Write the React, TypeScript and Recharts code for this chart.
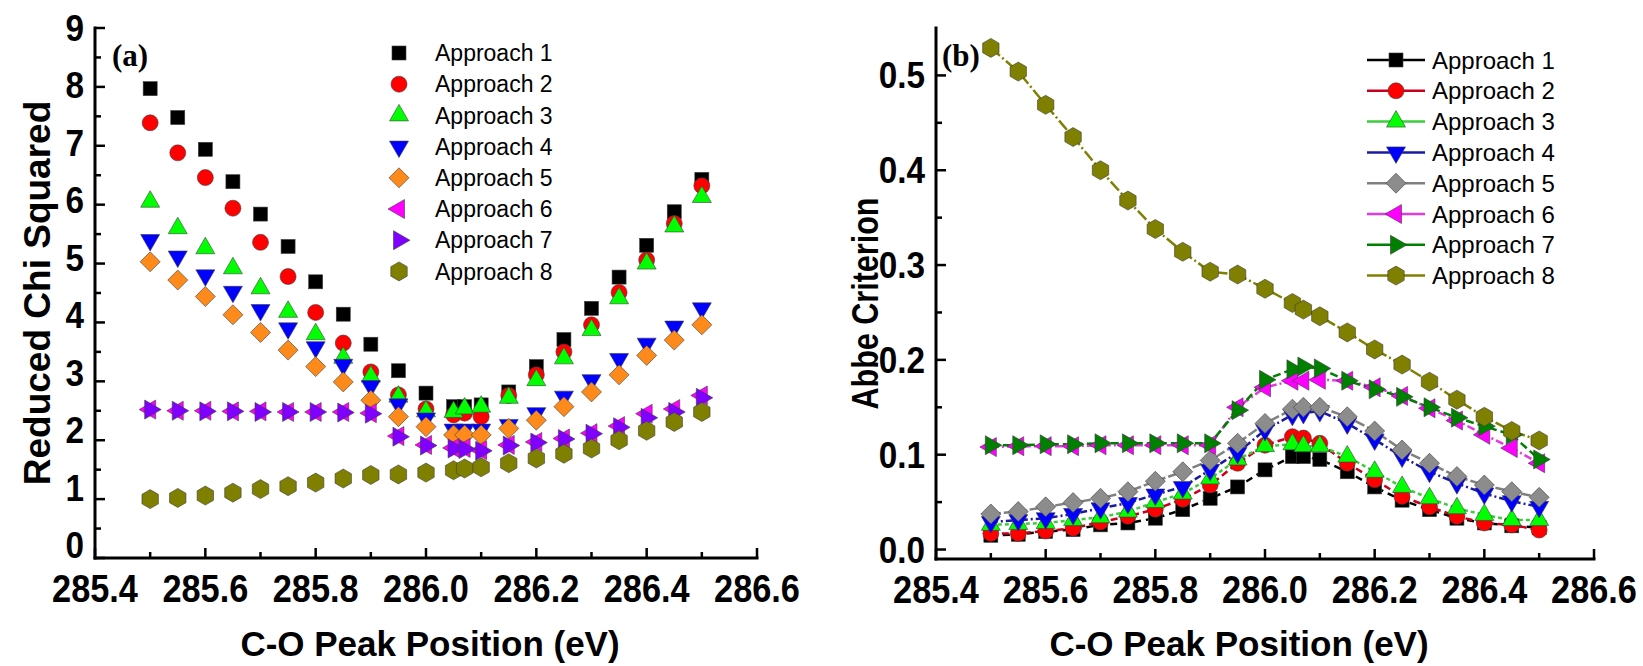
import { ScatterChart, Scatter, LineChart, Line, XAxis, YAxis, Legend } from 'recharts'

// C-O peak positions (eV) shared by both panels
const peakPositions = [
  285.5, 285.55, 285.6, 285.65, 285.7, 285.75, 285.8, 285.85, 285.9, 285.95, 286.0,
  286.05, 286.07, 286.1, 286.15, 286.2, 286.25, 286.3, 286.35, 286.4, 286.45, 286.5,
]

// (a) reduced chi squared
const chiApproach1 = [7.97, 7.48, 6.94, 6.39, 5.84, 5.29, 4.69, 4.14, 3.63, 3.18, 2.8, 2.57, 2.57, 2.6, 2.82, 3.25, 3.71, 4.24, 4.77, 5.31, 5.88, 6.43]
const chiApproach2 = [7.39, 6.88, 6.46, 5.94, 5.36, 4.78, 4.17, 3.65, 3.16, 2.77, 2.53, 2.43, 2.46, 2.4, 2.76, 3.11, 3.5, 3.96, 4.51, 5.06, 5.68, 6.32]
const chiApproach3 = [6.05, 5.6, 5.26, 4.92, 4.58, 4.18, 3.8, 3.4, 3.08, 2.74, 2.49, 2.48, 2.54, 2.57, 2.72, 3.02, 3.39, 3.87, 4.41, 5.0, 5.63, 6.13]
const chiApproach4 = [5.4, 5.12, 4.8, 4.52, 4.21, 3.9, 3.58, 3.28, 2.92, 2.61, 2.37, 2.18, 2.18, 2.18, 2.26, 2.46, 2.74, 3.02, 3.38, 3.64, 3.93, 4.24]
const chiApproach5 = [5.03, 4.72, 4.44, 4.13, 3.83, 3.53, 3.25, 2.99, 2.68, 2.4, 2.23, 2.09, 2.09, 2.09, 2.2, 2.34, 2.57, 2.82, 3.11, 3.44, 3.7, 3.96]
const chiApproach6 = [2.52, 2.5, 2.5, 2.49, 2.49, 2.48, 2.48, 2.48, 2.46, 2.07, 1.92, 1.87, 1.87, 1.83, 1.92, 1.97, 2.03, 2.12, 2.24, 2.45, 2.53, 2.76]
const chiApproach7 = [2.52, 2.5, 2.49, 2.49, 2.48, 2.48, 2.48, 2.47, 2.45, 2.06, 1.91, 1.86, 1.85, 1.82, 1.91, 1.96, 2.02, 2.11, 2.22, 2.38, 2.48, 2.72]
const chiApproach8 = [1.0, 1.02, 1.06, 1.11, 1.17, 1.22, 1.28, 1.35, 1.41, 1.42, 1.45, 1.49, 1.52, 1.54, 1.61, 1.69, 1.77, 1.86, 2.0, 2.16, 2.31, 2.48]

// (b) Abbe criterion
const abbeApproach1 = [0.015, 0.016, 0.019, 0.021, 0.026, 0.028, 0.033, 0.042, 0.054, 0.066, 0.084, 0.098, 0.098, 0.095, 0.082, 0.066, 0.052, 0.042, 0.033, 0.028, 0.025, 0.023]
const abbeApproach2 = [0.017, 0.017, 0.0195, 0.0225, 0.029, 0.035, 0.0425, 0.053, 0.068, 0.091, 0.11, 0.119, 0.1175, 0.112, 0.091, 0.0735, 0.056, 0.045, 0.035, 0.028, 0.026, 0.0205]
const abbeApproach3 = [0.026, 0.027, 0.028, 0.031, 0.034, 0.04, 0.05, 0.059, 0.075, 0.095, 0.109, 0.111, 0.109, 0.109, 0.098, 0.082, 0.066, 0.054, 0.0435, 0.0365, 0.031, 0.031]
const abbeApproach4 = [0.029, 0.031, 0.033, 0.0375, 0.0435, 0.049, 0.058, 0.066, 0.084, 0.102, 0.126, 0.142, 0.144, 0.146, 0.133, 0.116, 0.098, 0.082, 0.07, 0.059, 0.051, 0.045]
const abbeApproach5 = [0.0375, 0.04, 0.045, 0.0495, 0.054, 0.061, 0.072, 0.082, 0.094, 0.112, 0.133, 0.148, 0.15, 0.15, 0.14, 0.125, 0.105, 0.091, 0.077, 0.068, 0.061, 0.055]
const abbeApproach6 = [0.108, 0.109, 0.109, 0.109, 0.11, 0.11, 0.11, 0.11, 0.11, 0.15, 0.171, 0.178, 0.178, 0.179, 0.178, 0.171, 0.162, 0.149, 0.136, 0.121, 0.107, 0.091]
const abbeApproach7 = [0.11, 0.11, 0.111, 0.111, 0.112, 0.112, 0.112, 0.112, 0.112, 0.147, 0.179, 0.19, 0.193, 0.191, 0.178, 0.169, 0.161, 0.15, 0.139, 0.13, 0.121, 0.095]
const abbeApproach8 = [0.529, 0.504, 0.469, 0.435, 0.4, 0.368, 0.338, 0.314, 0.293, 0.29, 0.275, 0.26, 0.253, 0.246, 0.229, 0.211, 0.195, 0.177, 0.158, 0.14, 0.125, 0.115]

const approachNames = ['Approach 1', 'Approach 2', 'Approach 3', 'Approach 4', 'Approach 5', 'Approach 6', 'Approach 7', 'Approach 8']

const positionTicks = [285.4, 285.5, 285.6, 285.7, 285.8, 285.9, 286.0, 286.1, 286.2, 286.3, 286.4, 286.5, 286.6]
const chiTicks = [0, 0.5, 1, 1.5, 2, 2.5, 3, 3.5, 4, 4.5, 5, 5.5, 6, 6.5, 7, 7.5, 8, 8.5, 9]
const abbeTicks = [0, 0.05, 0.1, 0.15, 0.2, 0.25, 0.3, 0.35, 0.4, 0.45, 0.5]

const FONT = "'Liberation Sans', Arial, Helvetica, sans-serif"
const SERIF = "'Liberation Serif', 'Times New Roman', serif"

type Shape = 'square' | 'circle' | 'up' | 'down' | 'diamond' | 'left' | 'right' | 'hexagon'

const chiSeries = [
  { values: chiApproach1, shape: 'square', fill: '#000000' },
  { values: chiApproach2, shape: 'circle', fill: '#ff0000' },
  { values: chiApproach3, shape: 'up', fill: '#00ff00' },
  { values: chiApproach4, shape: 'down', fill: '#0000ff' },
  { values: chiApproach5, shape: 'diamond', fill: '#ff8a1c' },
  { values: chiApproach6, shape: 'left', fill: '#ff00ff' },
  { values: chiApproach7, shape: 'right', fill: '#8000ff' },
  { values: chiApproach8, shape: 'hexagon', fill: '#808000' },
].map((s, i) => ({ ...s, name: approachNames[i] }))

const abbeSeries = [
  { values: abbeApproach1, shape: 'square', fill: '#000000', line: '#000000', dash: '7 5' },
  { values: abbeApproach2, shape: 'circle', fill: '#ff0000', line: '#c8001e', dash: '7 4' },
  { values: abbeApproach3, shape: 'up', fill: '#00ff00', line: '#3ccc3c', dash: '4 3' },
  { values: abbeApproach4, shape: 'down', fill: '#0000ff', line: '#1a1aa0', dash: '7 3 2 3' },
  { values: abbeApproach5, shape: 'diamond', fill: '#8c8c8c', line: '#808080', dash: '10 3' },
  { values: abbeApproach6, shape: 'left', fill: '#ff00ff', line: '#e03ce0', dash: '8 3 2 3' },
  { values: abbeApproach7, shape: 'right', fill: '#008000', line: '#008000', dash: '8 4' },
  { values: abbeApproach8, shape: 'hexagon', fill: '#808000', line: '#808000', dash: '12 3 2 3' },
].map((s, i) => ({ ...s, name: approachNames[i], key: `a${i + 1}` }))

const abbeRows = peakPositions.map((x, i) => {
  const row: Record<string, number> = { x }
  abbeSeries.forEach((s) => {
    row[s.key] = s.values[i]
  })
  return row
})

const pts = (cx: number, cy: number, list: number[][]) =>
  list.map(([dx, dy]) => `${cx + dx},${cy + dy}`).join(' ')

function Marker({ shape, cx, cy, fill }: { shape: Shape; cx?: number; cy?: number; fill: string }) {
  if (cx == null || cy == null || Number.isNaN(cx) || Number.isNaN(cy)) return null
  const common = { fill, stroke: '#3c3c3c', strokeWidth: 0.6 }
  switch (shape) {
    case 'square':
      return <rect x={cx - 7} y={cy - 7} width={14} height={14} {...common} />
    case 'circle':
      return <circle cx={cx} cy={cy} r={8} {...common} />
    case 'up':
      return <polygon points={pts(cx, cy, [[0, -11], [9.5, 5.5], [-9.5, 5.5]])} {...common} />
    case 'down':
      return <polygon points={pts(cx, cy, [[0, 11], [9.5, -5.5], [-9.5, -5.5]])} {...common} />
    case 'diamond':
      return <polygon points={pts(cx, cy, [[0, -10], [10, 0], [0, 10], [-10, 0]])} {...common} />
    case 'left':
      return <polygon points={pts(cx, cy, [[-11, 0], [5.5, -9.5], [5.5, 9.5]])} {...common} />
    case 'right':
      return <polygon points={pts(cx, cy, [[11, 0], [-5.5, -9.5], [-5.5, 9.5]])} {...common} />
    default:
      return (
        <polygon
          points={pts(cx, cy, [[0, -9.5], [8.2, -4.75], [8.2, 4.75], [0, 9.5], [-8.2, 4.75], [-8.2, -4.75]])}
          {...common}
        />
      )
  }
}

type TickProps = { x?: number; y?: number; payload?: { value: number } }

const isMajorPosition = (v: number) => Math.round(v * 10) % 2 === 0
const isMajorChi = (v: number) => Number.isInteger(v)
const isMajorAbbe = (v: number) => Math.round(v * 100) % 10 === 0

// bold labels are drawn a little taller than wide, like the condensed Arial export
function BoldLabel({ x, y, anchor, size, squeeze, children }: {
  x: number; y: number; anchor: 'start' | 'middle' | 'end'; size: number; squeeze: number; children: string
}) {
  return (
    <text
      transform={`translate(${x}, ${y}) scale(${squeeze}, 1)`}
      textAnchor={anchor}
      fontFamily={FONT}
      fontWeight="bold"
      fontSize={size}
      fill="#000"
    >
      {children}
    </text>
  )
}

function PositionTickBottom({ x = 0, y = 0, payload }: TickProps) {
  const v = payload?.value ?? 0
  const major = isMajorPosition(v)
  return (
    <g>
      <line x1={x} y1={y} x2={x} y2={y - (major ? 10 : 6)} stroke="#000" strokeWidth={2.5} />
      {major && (
        <BoldLabel x={x} y={y + 44} anchor="middle" size={39} squeeze={0.88}>
          {v.toFixed(1)}
        </BoldLabel>
      )}
    </g>
  )
}

function PositionTickTop({ x = 0, y = 0, payload }: TickProps) {
  const major = isMajorPosition(payload?.value ?? 0)
  return <line x1={x} y1={y} x2={x} y2={y + (major ? 10 : 6)} stroke="#000" strokeWidth={2.5} />
}

function ValueTickLeft({ x = 0, y = 0, payload, kind }: TickProps & { kind: 'chi' | 'abbe' }) {
  const v = payload?.value ?? 0
  const major = kind === 'chi' ? isMajorChi(v) : isMajorAbbe(v)
  const label = kind === 'chi' ? String(v) : v.toFixed(1)
  // chi labels creep upward toward the bottom of the axis
  const ly = kind === 'chi' ? y - (y - 28) * 0.024 : y
  return (
    <g>
      <line x1={x} y1={y} x2={x + (major ? 10 : 6)} y2={y} stroke="#000" strokeWidth={2.5} />
      {major && (
        <BoldLabel x={x - 11} y={ly + 13} anchor="end" size={37} squeeze={0.9}>
          {label}
        </BoldLabel>
      )}
    </g>
  )
}

function ValueTickRight({ x = 0, y = 0, payload, kind }: TickProps & { kind: 'chi' | 'abbe' }) {
  const v = payload?.value ?? 0
  const major = kind === 'chi' ? isMajorChi(v) : isMajorAbbe(v)
  return <line x1={x} y1={y} x2={x - (major ? 10 : 6)} y2={y} stroke="#000" strokeWidth={2.5} />
}

type ViewBox = { x?: number; y?: number; width?: number; height?: number }

function SideTitle({ viewBox, text, dx, dy, size, length }: {
  viewBox?: ViewBox; text: string; dx: number; dy: number; size: number; length?: number
}) {
  const { x = 0, y = 0, height = 0 } = viewBox ?? {}
  return (
    <text
      transform={`translate(${x + dx}, ${y + height / 2 + dy}) rotate(-90)`}
      textAnchor="middle"
      dominantBaseline="central"
      fontFamily={FONT}
      fontWeight="bold"
      fontSize={size}
      fill="#000"
      textLength={length}
      lengthAdjust={length ? 'spacingAndGlyphs' : undefined}
    >
      {text}
    </text>
  )
}

function BottomTitle({ viewBox, text, dx, dy }: { viewBox?: ViewBox; text: string; dx: number; dy: number }) {
  const { x = 0, y = 0, width = 0 } = viewBox ?? {}
  return (
    <text x={x + width / 2 + dx} y={y + dy} textAnchor="middle" fontFamily={FONT} fontWeight="bold" fontSize={35} fill="#000">
      {text}
    </text>
  )
}

const axisLine = { stroke: '#000', strokeWidth: 3, strokeLinecap: 'square' as const }

function ChiKey() {
  return (
    <svg width={820} height={666} style={{ position: 'absolute', left: 0, top: 0 }}>
      <text x={112} y={66} fontFamily={SERIF} fontWeight="bold" fontSize={31}>
        (a)
      </text>
      {chiSeries.map((s, i) => {
        const cy = 53 + i * 31.2
        return (
          <g key={s.name}>
            <Marker shape={s.shape as Shape} cx={399} cy={cy} fill={s.fill} />
            <text x={435} y={cy} dy="0.36em" fontFamily={FONT} fontSize={23} fill="#000">
              {s.name}
            </text>
          </g>
        )
      })}
    </svg>
  )
}

function AbbeKey() {
  return (
    <svg width={823} height={666} style={{ position: 'absolute', left: 0, top: 0 }}>
      <text x={122} y={66} fontFamily={SERIF} fontWeight="bold" fontSize={31}>
        (b)
      </text>
      {abbeSeries.map((s, i) => {
        const cy = 60 + i * 30.8
        return (
          <g key={s.name}>
            <line x1={547} y1={cy} x2={605} y2={cy} stroke={s.line} strokeWidth={2.5} />
            <Marker shape={s.shape as Shape} cx={576} cy={cy} fill={s.fill} />
            <text x={612} y={cy} dy="0.36em" fontFamily={FONT} fontSize={24} fill="#000">
              {s.name}
            </text>
          </g>
        )
      })}
    </svg>
  )
}

function ChiPanel() {
  return (
    <ScatterChart width={820} height={666} margin={{ top: 28, right: 63, left: 0, bottom: 0 }}>
      <XAxis
        type="number"
        dataKey="x"
        domain={[285.4, 286.6]}
        ticks={positionTicks}
        interval={0}
        height={108}
        tickSize={0}
        tickMargin={0}
        tickLine={false}
        axisLine={axisLine}
        tick={(p: TickProps) => <PositionTickBottom {...p} />}
        label={<BottomTitle text="C-O Peak Position (eV)" dx={4} dy={98} />}
      />
      <XAxis
        xAxisId="top"
        orientation="top"
        type="number"
        dataKey="x"
        domain={[285.4, 286.6]}
        ticks={positionTicks}
        interval={0}
        height={0}
        tickSize={0}
        tickMargin={0}
        tickLine={false}
        axisLine={axisLine}
        tick={(p: TickProps) => <PositionTickTop {...p} />}
      />
      <YAxis
        type="number"
        dataKey="y"
        domain={[0, 9]}
        ticks={chiTicks}
        interval={0}
        width={95}
        tickSize={0}
        tickMargin={0}
        tickLine={false}
        axisLine={axisLine}
        tick={(p: TickProps) => <ValueTickLeft {...p} kind="chi" />}
        label={<SideTitle text="Reduced Chi Squared" dx={37} dy={0} size={37} />}
      />
      <YAxis
        yAxisId="right"
        orientation="right"
        type="number"
        dataKey="y"
        domain={[0, 9]}
        ticks={chiTicks}
        interval={0}
        width={0}
        tickSize={0}
        tickMargin={0}
        tickLine={false}
        axisLine={axisLine}
        tick={(p: TickProps) => <ValueTickRight {...p} kind="chi" />}
      />
      {chiSeries.map((s) => (
        <Scatter
          key={s.name}
          name={s.name}
          data={peakPositions.map((x, i) => ({ x, y: s.values[i] }))}
          isAnimationActive={false}
          shape={(p: { cx?: number; cy?: number }) => <Marker shape={s.shape as Shape} cx={p.cx} cy={p.cy} fill={s.fill} />}
        />
      ))}
      <Legend
        layout="vertical"
        align="center"
        verticalAlign="middle"
        wrapperStyle={{ left: 0, top: 0, width: 820, height: 666, pointerEvents: 'none' }}
        content={() => <ChiKey />}
      />
    </ScatterChart>
  )
}

function AbbePanel() {
  return (
    <LineChart width={823} height={666} data={abbeRows} margin={{ top: 28, right: 49, left: 0, bottom: 0 }}>
      <XAxis
        type="number"
        dataKey="x"
        domain={[285.4, 286.6]}
        ticks={positionTicks}
        interval={0}
        height={107}
        tickSize={0}
        tickMargin={0}
        tickLine={false}
        axisLine={axisLine}
        tick={(p: TickProps) => <PositionTickBottom {...p} />}
        label={<BottomTitle text="C-O Peak Position (eV)" dx={-26} dy={97} />}
      />
      <XAxis
        xAxisId="top"
        orientation="top"
        type="number"
        dataKey="x"
        domain={[285.4, 286.6]}
        ticks={positionTicks}
        interval={0}
        height={0}
        tickSize={0}
        tickMargin={0}
        tickLine={false}
        axisLine={axisLine}
        tick={(p: TickProps) => <PositionTickTop {...p} />}
      />
      <YAxis
        type="number"
        domain={[-0.01, 0.55]}
        ticks={abbeTicks}
        interval={0}
        width={116}
        tickSize={0}
        tickMargin={0}
        tickLine={false}
        axisLine={axisLine}
        tick={(p: TickProps) => <ValueTickLeft {...p} kind="abbe" />}
        label={<SideTitle text="Abbe Criterion" dx={45} dy={10} size={36} length={212} />}
      />
      <YAxis
        yAxisId="right"
        orientation="right"
        type="number"
        domain={[-0.01, 0.55]}
        ticks={abbeTicks}
        interval={0}
        width={0}
        tickSize={0}
        tickMargin={0}
        tickLine={false}
        axisLine={axisLine}
        tick={(p: TickProps) => <ValueTickRight {...p} kind="abbe" />}
      />
      {abbeSeries.map((s) => (
        <Line
          key={s.key}
          dataKey={s.key}
          name={s.name}
          stroke={s.line}
          strokeWidth={2.5}
          strokeDasharray={s.dash}
          isAnimationActive={false}
          activeDot={false}
          dot={(p: { cx?: number; cy?: number; index?: number }) => (
            <Marker key={`${s.key}-${p.index}`} shape={s.shape as Shape} cx={p.cx} cy={p.cy} fill={s.fill} />
          )}
        />
      ))}
      <Legend
        layout="vertical"
        align="center"
        verticalAlign="middle"
        wrapperStyle={{ left: 0, top: 0, width: 823, height: 666, pointerEvents: 'none' }}
        content={() => <AbbeKey />}
      />
    </LineChart>
  )
}

export default function App() {
  return (
    <div style={{ position: 'absolute', left: 0, top: 0, width: 1643, height: 666, background: '#fff' }}>
      <div style={{ position: 'absolute', left: 0, top: 0 }}>
        <ChiPanel />
      </div>
      <div style={{ position: 'absolute', left: 820, top: 0 }}>
        <AbbePanel />
      </div>
    </div>
  )
}
